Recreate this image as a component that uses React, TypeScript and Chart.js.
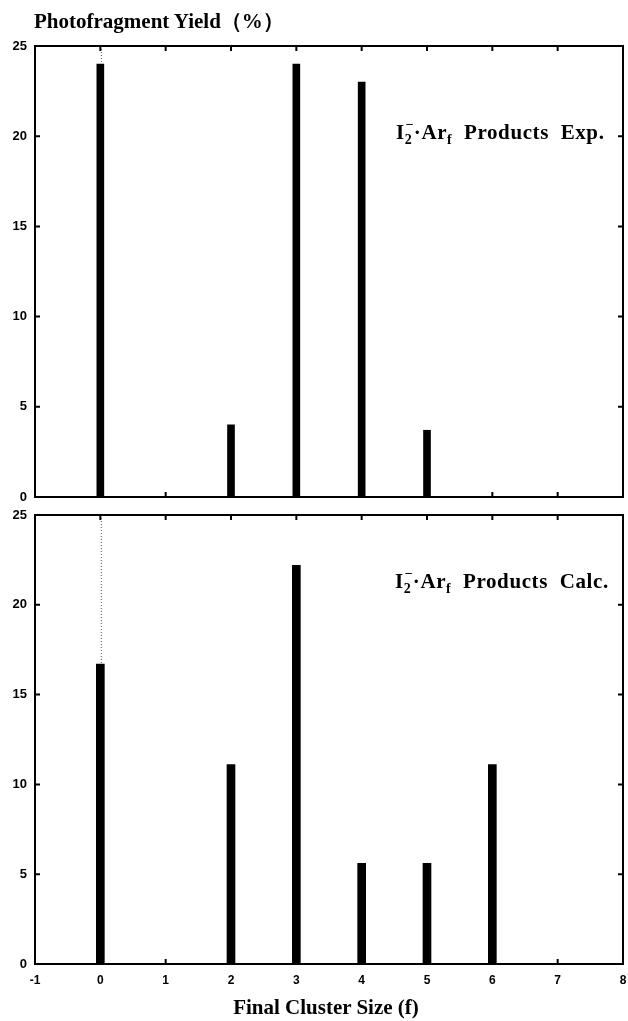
import React, { useEffect, useRef } from 'react';
import { Chart, registerables } from 'chart.js';

Chart.register(...registerables);

// ---- data ----
const expSizes = [0, 2, 3, 4, 5];
const expYield = [24, 4, 24, 23, 3.7];
const calcSizes = [0, 2, 3, 4, 5, 6];
const calcYield = [16.7, 11.1, 22.2, 5.6, 5.6, 11.1];
const xTickValues = [-1, 0, 1, 2, 3, 4, 5, 6, 7, 8];
const yTickValues = [0, 5, 10, 15, 20, 25];
const yAxisTitle = 'Photofragment Yield（%）';
const xAxisTitle = 'Final Cluster Size (f)';

const SANS = '"Liberation Sans", Arial, sans-serif';
const SERIF = '"Liberation Serif", "Times New Roman", serif';

const framePlugin = {
  id: 'frame',
  afterDatasetsDraw(chart: any) {
    const { ctx, chartArea, scales } = chart;
    const { left, right, top, bottom } = chartArea;
    const xs = scales.x;
    const ys = scales.y;
    ctx.save();
    // dotted guide above the bar at f = 0
    const ds = chart.data.datasets[0].data as { x: number; y: number }[];
    const zero = ds.find((d) => d.x === 0);
    if (zero) {
      const px = xs.getPixelForValue(0);
      ctx.strokeStyle = '#555';
      ctx.lineWidth = 1;
      ctx.setLineDash([1, 2]);
      ctx.beginPath();
      ctx.moveTo(px + 1, top);
      ctx.lineTo(px + 1, ys.getPixelForValue(zero.y));
      ctx.stroke();
      ctx.setLineDash([]);
    }
    // frame
    ctx.strokeStyle = '#000';
    ctx.lineWidth = 2;
    ctx.strokeRect(left, top, right - left, bottom - top);
    // inward ticks
    const L = 5;
    ctx.beginPath();
    xTickValues.forEach((v) => {
      const px = xs.getPixelForValue(v);
      if (px <= left + 2 || px >= right - 2) return;
      ctx.moveTo(px, bottom);
      ctx.lineTo(px, bottom - L);
      ctx.moveTo(px, top);
      ctx.lineTo(px, top + L);
    });
    yTickValues.forEach((v) => {
      const py = ys.getPixelForValue(v);
      if (py <= top + 2 || py >= bottom - 2) return;
      ctx.moveTo(left, py);
      ctx.lineTo(left + L, py);
      ctx.moveTo(right, py);
      ctx.lineTo(right - L, py);
    });
    ctx.stroke();
    ctx.restore();
  },
};

function makeConfig(
  sizes: number[],
  values: number[],
  thickness: number,
  showX: boolean,
  padTop: number,
  xHeight: number
): any {
  return {
    type: 'bar',
    data: {
      datasets: [
        {
          data: sizes.map((s, i) => ({ x: s, y: values[i] })),
          backgroundColor: '#000',
          borderWidth: 0,
          barThickness: thickness,
        },
      ],
    },
    options: {
      animation: false,
      responsive: false,
      maintainAspectRatio: false,
      layout: { padding: { top: padTop, left: 0, right: 5, bottom: 0 } },
      plugins: { legend: { display: false }, tooltip: { enabled: false } },
      scales: {
        x: {
          type: 'linear',
          min: -1,
          max: 8,
          offset: false,
          grid: { display: false, drawTicks: false, offset: false },
          border: { display: false },
          ticks: {
            display: showX,
            stepSize: 1,
            padding: 9,
            color: '#000',
            maxRotation: 0,
            font: { family: SANS, weight: 'bold', size: 12 },
            callback: (v: number) => String(v),
          },
          afterFit: (s: any) => {
            s.height = xHeight;
            s.paddingLeft = 0;
            s.paddingRight = 0;
          },
        },
        y: {
          min: 0,
          max: 25,
          grid: { display: false, drawTicks: false },
          border: { display: false },
          ticks: {
            stepSize: 5,
            padding: 8,
            color: '#000',
            font: { family: SANS, weight: 'bold', size: 13 },
          },
          afterFit: (s: any) => {
            s.width = 35;
            s.paddingTop = 0;
            s.paddingBottom = 0;
          },
        },
      },
    },
    plugins: [framePlugin],
  };
}

const textBase: React.CSSProperties = {
  position: 'absolute',
  fontFamily: SERIF,
  fontWeight: 'bold',
  fontSize: 21,
  lineHeight: '24px',
  whiteSpace: 'pre',
  color: '#000',
};

function Label({ kind, left, top }: { kind: string; left: number; top: number }) {
  return (
    <div style={{ ...textBase, left, top, letterSpacing: '0.6px' }}>
      I
      <span style={{ position: 'relative', display: 'inline-block', width: 9 }}>
        <span style={{ fontSize: 14, position: 'relative', top: 5 }}>2</span>
        <span style={{ position: 'absolute', left: 1, top: -7, fontSize: 14 }}>−</span>
      </span>
      ·Ar
      <span style={{ fontSize: 14, position: 'relative', top: 5 }}>f</span>
      {'  Products  ' + kind}
    </div>
  );
}

export default function App() {
  const topRef = useRef<HTMLCanvasElement>(null);
  const botRef = useRef<HTMLCanvasElement>(null);

  useEffect(() => {
    document.body.style.margin = '0';
    const c1 = new Chart(topRef.current!, makeConfig(expSizes, expYield, 7, false, 46, 9));
    const c2 = new Chart(botRef.current!, makeConfig(calcSizes, calcYield, 8, true, 9, 57));
    return () => {
      c1.destroy();
      c2.destroy();
    };
  }, []);

  return (
    <div style={{ position: 'relative', width: 628, height: 1021, background: '#fff', overflow: 'hidden' }}>
      <canvas ref={topRef} width={628} height={506} style={{ position: 'absolute', left: 0, top: 0 }} />
      <canvas ref={botRef} width={628} height={515} style={{ position: 'absolute', left: 0, top: 506 }} />
      <div style={{ ...textBase, left: 34, top: 9 }}>{yAxisTitle}</div>
      <div style={{ ...textBase, left: 0, width: 652, top: 995, textAlign: 'center' }}>{xAxisTitle}</div>
      <Label kind="Exp." left={396} top={120} />
      <Label kind="Calc." left={395} top={569} />
    </div>
  );
}
